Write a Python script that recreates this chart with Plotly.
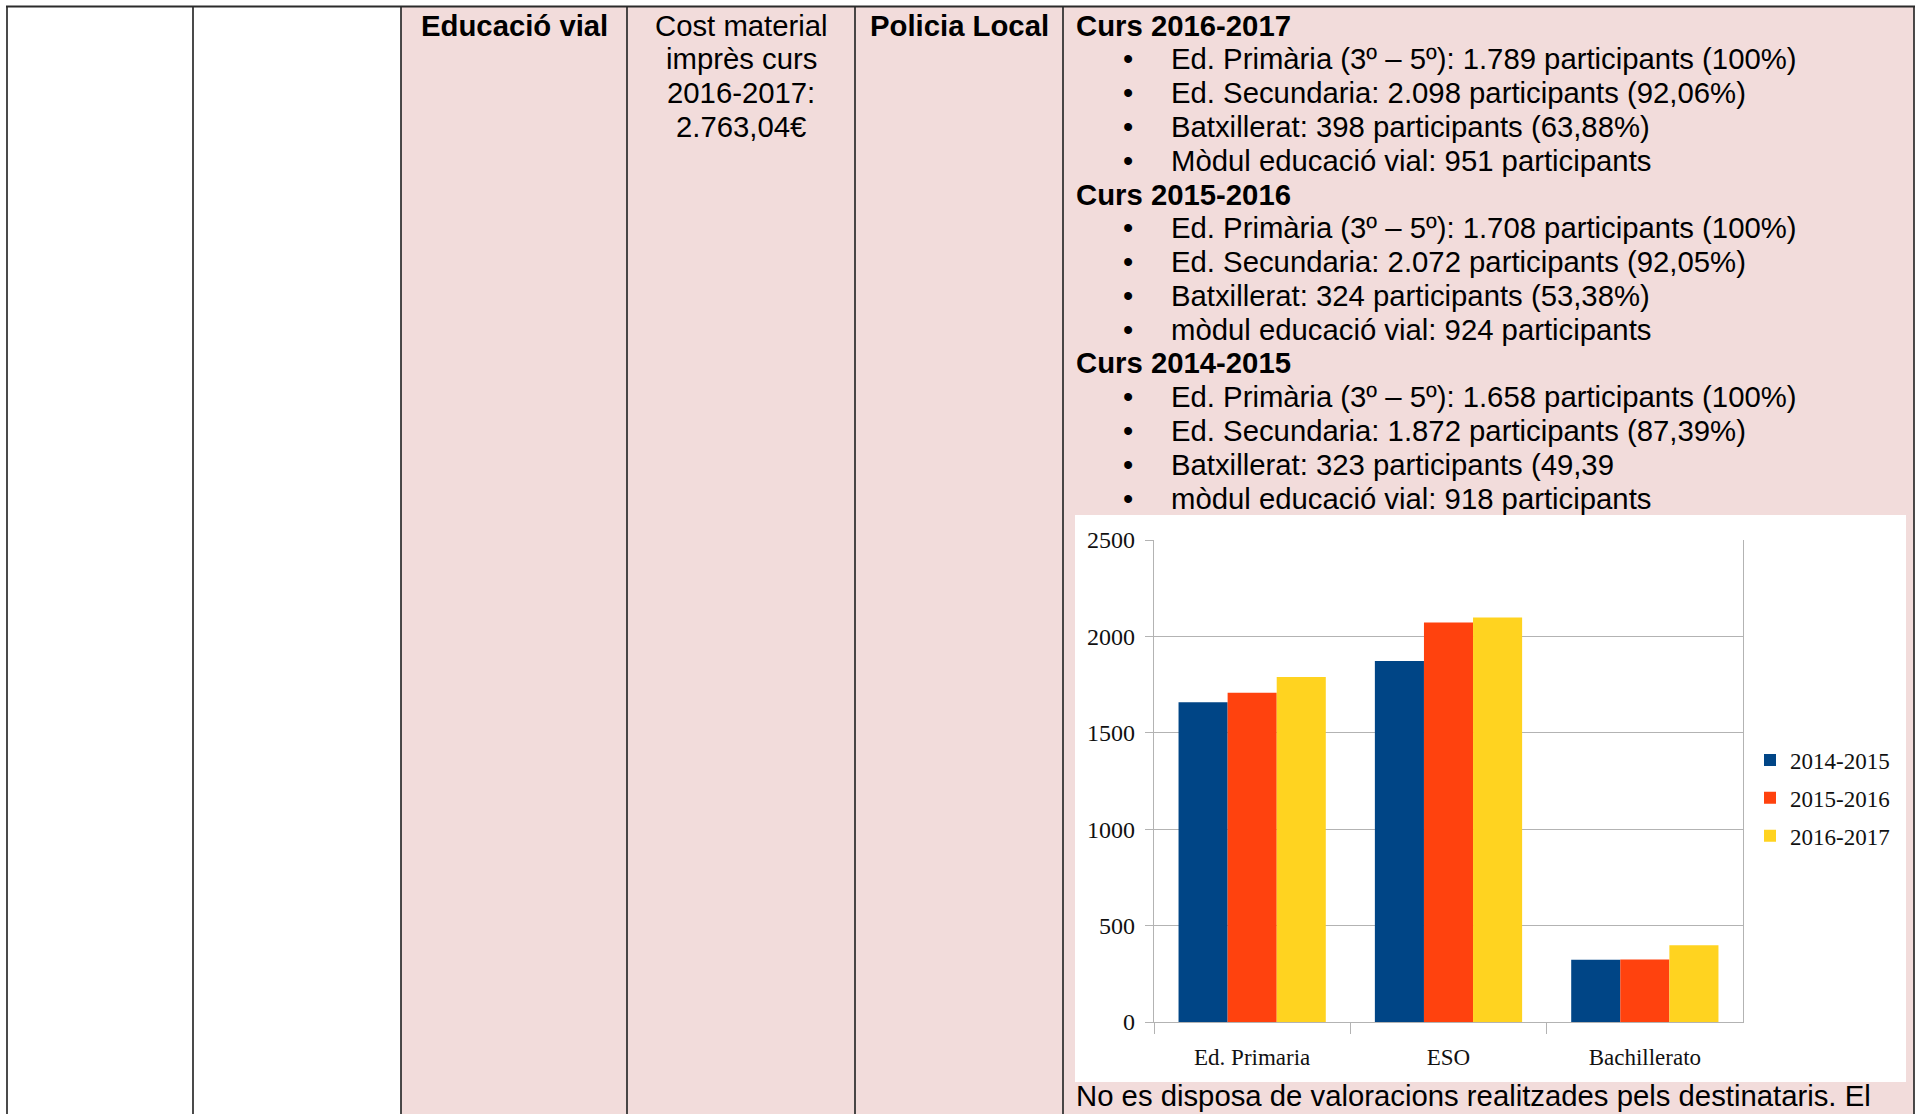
import plotly.graph_objects as go

W, H = 1921, 1114

# ---------------- data ----------------
categories = ["Ed. Primaria", "ESO", "Bachillerato"]
series_names = ["2014-2015", "2015-2016", "2016-2017"]
values_2014_2015 = [1658, 1872, 323]
values_2015_2016 = [1708, 2072, 324]
values_2016_2017 = [1789, 2098, 398]
series_colors = ["#004586", "#ff420e", "#ffd320"]
y_tick_values = [0, 500, 1000, 1500, 2000, 2500]

cell_educacio = "Educació vial"
cell_cost = ["Cost material", "imprès curs", "2016-2017:", "2.763,04€"]
cell_policia = "Policia Local"
detail_lines = [
    ("h", "Curs 2016-2017"),
    ("b", "Ed. Primària (3º – 5º): 1.789 participants (100%)"),
    ("b", "Ed. Secundaria: 2.098 participants (92,06%)"),
    ("b", "Batxillerat: 398 participants (63,88%)"),
    ("b", "Mòdul educació vial: 951 participants"),
    ("h", "Curs 2015-2016"),
    ("b", "Ed. Primària (3º – 5º): 1.708 participants (100%)"),
    ("b", "Ed. Secundaria: 2.072 participants (92,05%)"),
    ("b", "Batxillerat: 324 participants (53,38%)"),
    ("b", "mòdul educació vial: 924 participants"),
    ("h", "Curs 2014-2015"),
    ("b", "Ed. Primària (3º – 5º): 1.658 participants (100%)"),
    ("b", "Ed. Secundaria: 1.872 participants (87,39%)"),
    ("b", "Batxillerat: 323 participants (49,39"),
    ("b", "mòdul educació vial: 918 participants"),
]
footer_line = "No es disposa de valoracions realitzades pels destinataris. El"


def px(x):
    return x / W


def py(y):
    return 1 - y / H


PINK = "#f2dcdb"
BORDER = "#2b2b2b"
SANS = "Liberation Sans, Arial, sans-serif"
SERIF = "Liberation Serif, Times New Roman, serif"
FS = 29.3
LINE0 = 25
LSTEP = 33.8

fig = go.Figure()
all_values = [values_2014_2015, values_2015_2016, values_2016_2017]
for i, (name, vals, col) in enumerate(zip(series_names, all_values, series_colors)):
    fig.add_trace(go.Bar(
        x=categories, y=vals, name=name, legendgroup=name,
        marker=dict(color=col, line=dict(width=0)),
        hoverinfo="skip",
    ))

shapes = []
# pink area
shapes.append(dict(type="rect", xref="paper", yref="paper", layer="below",
                   x0=px(401), x1=px(1914), y0=py(1120), y1=py(6),
                   fillcolor=PINK, line=dict(width=0)))
# white chart box
shapes.append(dict(type="rect", xref="paper", yref="paper", layer="below",
                   x0=px(1075), x1=px(1906), y0=py(1082), y1=py(515),
                   fillcolor="white", line=dict(width=0)))
# table borders
shapes.append(dict(type="line", xref="paper", yref="paper",
                   x0=px(6), x1=px(1915), y0=py(6.5), y1=py(6.5),
                   line=dict(color=BORDER, width=2)))
for xv in [7, 193, 401, 627, 855, 1063, 1914]:
    shapes.append(dict(type="line", xref="paper", yref="paper",
                       x0=px(xv), x1=px(xv), y0=py(6), y1=py(1120),
                       line=dict(color=BORDER, width=1.7)))

ann = []


def text(x, y, s, anchor="left", bold=False, size=FS, family=SANS):
    ann.append(dict(xref="paper", yref="paper", x=px(x), y=py(y),
                    text=("<b>%s</b>" % s) if bold else s, showarrow=False,
                    xanchor=anchor, yanchor="middle",
                    font=dict(family=family, size=size, color="black")))


text(514, LINE0, cell_educacio, anchor="center", bold=True)
for i, s in enumerate(cell_cost):
    text(741, LINE0 + LSTEP * i, s, anchor="center")
text(959, LINE0, cell_policia, anchor="center", bold=True)
for i, (kind, s) in enumerate(detail_lines):
    yv = LINE0 + LSTEP * i
    if kind == "h":
        text(1074, yv, s, bold=True)
    else:
        text(1121, yv, "•")
        text(1169, yv, s)
text(1074, 1095, footer_line)

fig.update_layout(
    width=W, height=H,
    margin=dict(l=0, r=0, t=0, b=0, pad=0, autoexpand=False),
    paper_bgcolor="white", plot_bgcolor="rgba(0,0,0,0)",
    shapes=shapes, annotations=ann,
    barmode="group", bargap=0.25, bargroupgap=0,
    showlegend=True,
    legend=dict(x=px(1750), y=py(738.5), xanchor="left", yanchor="top",
                font=dict(family=SERIF, size=23, color="#111"),
                bgcolor="rgba(0,0,0,0)", itemwidth=30, tracegroupgap=5,
                traceorder="grouped"),
    xaxis=dict(domain=[px(1154), px(1743)], type="category",
               tickson="boundaries", ticks="outside", ticklen=11,
               tickcolor="#b3b3b3", tickwidth=1.3,
               showline=True, linecolor="#b3b3b3", linewidth=1.3,
               showgrid=False, fixedrange=True, ticklabelstandoff=14,
               automargin=False,
               tickfont=dict(family=SERIF, size=23, color="#111")),
    yaxis=dict(domain=[py(1022), py(540)], range=[0, 2500],
               tickvals=y_tick_values, ticks="outside", ticklen=8,
               tickcolor="#b3b3b3", tickwidth=1.3,
               showgrid=True, gridcolor="#b3b3b3", gridwidth=1.3,
               showline=True, mirror=True, linecolor="#b3b3b3", linewidth=1.3,
               zeroline=False, fixedrange=True, ticklabelstandoff=5,
               automargin=False,
               tickfont=dict(family=SERIF, size=24, color="#111")),
)

post = ("document.documentElement.style.margin='0';"
        "document.body.style.margin='0';document.body.style.overflow='hidden';"
        "document.documentElement.style.overflow='hidden';")
fig.write_html("out.html", config={"displayModeBar": False}, post_script=post)
